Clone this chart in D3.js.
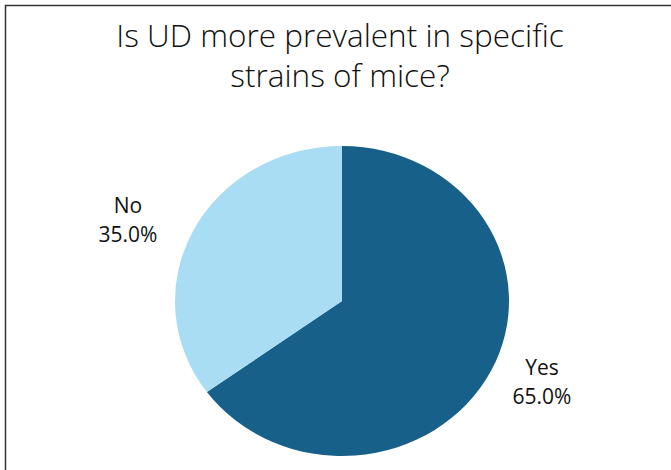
<!DOCTYPE html>
<html>
<head>
<meta charset="utf-8">
<script src="https://cdn.jsdelivr.net/npm/d3@7"></script>
<style>
  body { margin: 0; background: #fff; }
  svg { display: block; }
  text { font-family: "Open Sans", "Noto Sans", sans-serif; fill: #111; }
</style>
</head>
<body>
<div id="chart"></div>
<script>
const titleLines = ["Is UD more prevalent in specific", "strains of mice?"];
const categories = ["Yes", "No"];
const values = [65.0, 35.0];
const colors = ["#17608a", "#a9ddf4"];

const width = 671, height = 470;
const svg = d3.select("#chart").append("svg").attr("width", width).attr("height", height);

// cadre (haut + gauche seulement, le reste est coupé)
svg.append("path")
    .attr("d", `M5.5,${height} V5.5 H${width}`)
    .attr("fill", "none").attr("stroke", "#333").attr("stroke-width", 1.5);

svg.selectAll("text.title").data(titleLines).enter().append("text")
    .attr("class", "title")
    .attr("x", 340).attr("y", (d, i) => 47 + i * 40)
    .attr("text-anchor", "middle")
    .style("font-size", "31.5px").style("font-weight", 300)
    .text(d => d);

// pie légèrement écrasé verticalement comme dans l'original
const cx = 342, cy = 301, rx = 167, ry = 155;
const data = categories.map((c, i) => ({ name: c, value: values[i], color: colors[i] }));
const pie = d3.pie().sort(null).value(d => d.value);
const arc = d3.arc().innerRadius(0).outerRadius(rx);

const g = svg.append("g").attr("transform", `translate(${cx},${cy}) scale(1,${ry / rx})`);
g.selectAll("path").data(pie(data)).enter().append("path")
    .attr("d", arc)
    .attr("fill", d => d.data.color);

// étiquettes
const labelPos = { Yes: [542, 375], No: [128, 213] };
data.forEach(d => {
    const [x, y] = labelPos[d.name];
    const t = svg.append("text").attr("x", x).attr("y", y)
        .attr("text-anchor", "middle").style("font-size", "21px");
    t.append("tspan").attr("x", x).text(d.name);
    t.append("tspan").attr("x", x).attr("dy", 29).text(d.value.toFixed(1) + "%");
});
</script>
</body>
</html>
